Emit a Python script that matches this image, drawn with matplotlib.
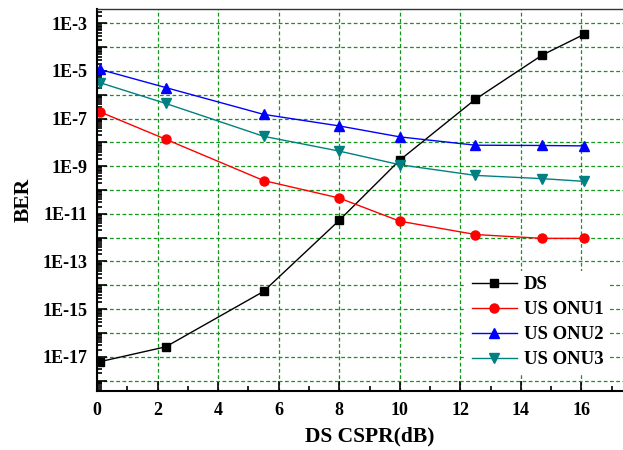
import numpy as np
import matplotlib
matplotlib.use("Agg")
import matplotlib.pyplot as plt
from matplotlib.ticker import LogLocator, FixedLocator, MultipleLocator, NullFormatter

plt.rcParams["font.family"] = ["Liberation Serif", "DejaVu Serif"]
plt.rcParams["font.weight"] = "bold"

# ── data ─────────────────────────────────────────────────────────────────
cspr = [0.1, 2.27, 5.5, 8.0, 10.0, 12.5, 14.7, 16.1]
ber_ds   = [6.2e-18, 2.6e-17, 5.5e-15, 5.3e-12, 1.8e-9, 6.5e-7, 4.6e-5, 3.5e-4]
ber_onu1 = [1.9e-7, 1.35e-8, 2.5e-10, 4.6e-11, 4.9e-12, 1.35e-12, 9.3e-13, 9.3e-13]
ber_onu2 = [1.15e-5, 2.0e-6, 1.5e-7, 4.9e-8, 1.7e-8, 7.6e-9, 7.4e-9, 7.1e-9]
ber_onu3 = [3.2e-6, 4.3e-7, 1.8e-8, 4.3e-9, 1.15e-9, 4.1e-10, 3.0e-10, 2.3e-10]

series = [
    ("DS", ber_ds, "black", "s"),
    ("US ONU1", ber_onu1, "red", "o"),
    ("US ONU2", ber_onu2, "blue", "^"),
    ("US ONU3", ber_onu3, "#008080", "v"),
]

xticks = [0, 2, 4, 6, 8, 10, 12, 14, 16]
ylabel_exps = [-3, -5, -7, -9, -11, -13, -15, -17]

# ── plot ─────────────────────────────────────────────────────────────────
fig = plt.figure(figsize=(6.23, 4.5), dpi=100)
ax = fig.add_axes([97 / 623, 59 / 450, 545 / 623, 382 / 450])

sizes = {"s": 6, "o": 6.5, "^": 7, "v": 7}
for name, vals, col, mk in series:
    ax.plot(cspr, vals, color=col, marker=mk, markersize=sizes[mk],
            linewidth=1, label=name)

ax.set_yscale("log")
ax.set_xlim(0, 18)
ax.set_ylim(10 ** -18.44, 10 ** -2.40)

ax.xaxis.set_major_locator(FixedLocator(xticks))
ax.xaxis.set_minor_locator(MultipleLocator(1))
ax.yaxis.set_major_locator(LogLocator(base=10, numticks=30))
ax.yaxis.set_minor_locator(LogLocator(base=10, subs=np.arange(2, 10), numticks=30))
ax.yaxis.set_minor_formatter(NullFormatter())
ax.yaxis.set_major_formatter(
    lambda v, pos: f"1E{int(round(np.log10(v)))}" if int(round(np.log10(v))) in ylabel_exps else "")

ax.grid(True, which="major", color="#13951a", linestyle=(0, (3, 2)), linewidth=0.9)
ax.tick_params(which="both", direction="in", top=False, right=False, labelsize=13, width=1.2)
ax.tick_params(which="major", length=7)
ax.tick_params(which="minor", length=3.5)
ax.tick_params(axis="y", which="major", pad=7)
ax.tick_params(axis="x", which="major", pad=8)
for lab in ax.get_xticklabels() + ax.get_yticklabels():
    lab.set_fontweight("bold")

for s in ["left", "bottom"]:
    ax.spines[s].set_linewidth(1.5)
ax.spines["top"].set_linewidth(1.0)
ax.spines["top"].set_color("#333333")

ax.set_xlabel("DS CSPR(dB)", fontsize=15.5, fontweight="bold", labelpad=5)
ax.set_ylabel("BER", fontsize=15.5, fontweight="bold", labelpad=6)

leg = ax.legend(loc="lower left", bbox_to_anchor=(0.66, 0.02), frameon=True,
                facecolor="white", edgecolor="none", framealpha=1, fancybox=False,
                borderpad=0.3, fontsize=13.5, handlelength=2.4, labelspacing=0.42,
                handletextpad=0.4)

fig.savefig("out.png", dpi=100)
plt.close()
